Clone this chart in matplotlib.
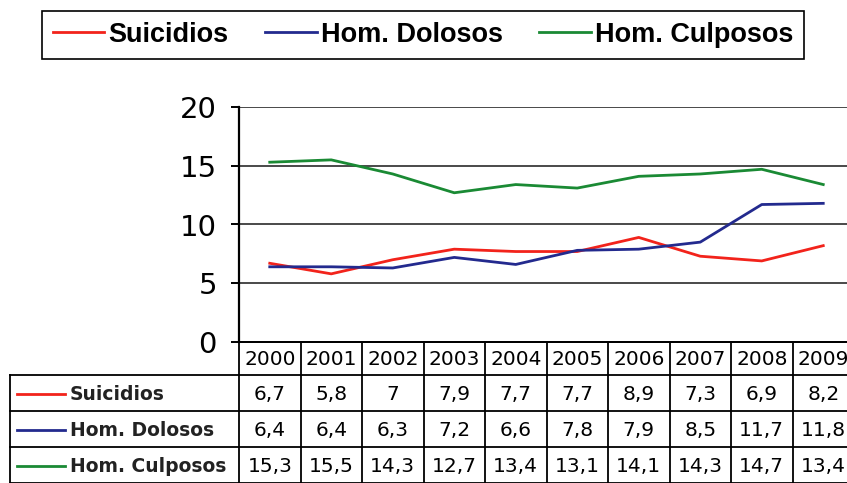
import matplotlib
matplotlib.use("Agg")
import matplotlib.pyplot as plt
import numpy as np

years = ["2000", "2001", "2002", "2003", "2004", "2005", "2006", "2007", "2008", "2009"]
series_names = ["Suicidios", "Hom. Dolosos", "Hom. Culposos"]
suicidios = [6.7, 5.8, 7.0, 7.9, 7.7, 7.7, 8.9, 7.3, 6.9, 8.2]
dolosos = [6.4, 6.4, 6.3, 7.2, 6.6, 7.8, 7.9, 8.5, 11.7, 11.8]
culposos = [15.3, 15.5, 14.3, 12.7, 13.4, 13.1, 14.1, 14.3, 14.7, 13.4]
colors = ["#f2231b", "#232a8e", "#1a8a34"]
yticks = [0, 5, 10, 15, 20]

W, H = 847, 483


def fmt(v):
    return ("%g" % v).replace(".", ",")


def main():
    fig = plt.figure(figsize=(W / 100, H / 100), dpi=100)
    fig.patch.set_facecolor("white")

    # plot area (pixel layout)
    left, right, top, bottom = 239, 854, 107, 342
    ax = fig.add_axes([left / W, (H - bottom) / H, (right - left) / W, (bottom - top) / H])
    x = np.arange(len(years))
    data = [suicidios, dolosos, culposos]
    lines = []
    for vals, name, c in zip(data, series_names, colors):
        ln, = ax.plot(x, vals, color=c, lw=2.0, label=name, zorder=3)
        lines.append(ln)

    ax.set_xlim(-0.5, len(years) - 0.5)
    ax.set_ylim(0, 20)
    ax.set_yticks(yticks)
    ax.set_xticks([])
    ax.yaxis.grid(True, color="#2a2a2a", lw=1.2)
    ax.set_axisbelow(True)
    for s in ["top", "right"]:
        ax.spines[s].set_visible(False)
    ax.spines["left"].set_linewidth(1.6)
    ax.spines["bottom"].set_linewidth(1.4)
    ax.tick_params(axis="y", length=6, width=1.4, pad=10, labelsize=21)

    # data table below the plot, sharing the column layout
    colw = (right - left) / len(years)
    tl = 10
    xleft = -0.5 - (left - tl) / colw
    tx = fig.add_axes([tl / W, 0, (right - tl) / W, (H - bottom) / H])
    tx.set_xlim(xleft, len(years) - 0.5)
    tx.set_ylim(H - bottom, 0)
    tx.axis("off")
    rows = [0, 33, 69, 105, 141]
    lk = dict(color="black", lw=1.3, clip_on=False)
    for i in range(len(years) + 1):
        tx.plot([i - 0.5, i - 0.5], [rows[0], rows[-1]], **lk)
    tx.plot([xleft, xleft], [rows[1], rows[-1]], **lk)
    tx.plot([-0.5, len(years) - 0.5], [rows[0], rows[0]], **lk)
    for r in rows[1:]:
        tx.plot([xleft, len(years) - 0.5], [r, r], **lk)

    fs = 14.5
    for i, yr in enumerate(years):
        tx.text(i, (rows[0] + rows[1]) / 2 + 1, yr, ha="center", va="center", fontsize=fs)
    for k, (vals, name, c) in enumerate(zip(data, series_names, colors)):
        yc = (rows[k + 1] + rows[k + 2]) / 2 + 1
        tx.plot([xleft + 7 / colw, xleft + 55 / colw], [yc, yc], color=c, lw=2.0, clip_on=False)
        tx.text(xleft + 60 / colw, yc, name, ha="left", va="center", fontsize=13.5,
                fontweight="bold", color="#222222")
        for i, v in enumerate(vals):
            tx.text(i, yc, fmt(v), ha="center", va="center", fontsize=fs)

    # legend box at the top
    leg = fig.legend(lines, series_names, loc="upper center",
                     bbox_to_anchor=(423 / W, 1 - 11 / H), ncol=3,
                     frameon=True, fancybox=False, edgecolor="black",
                     framealpha=1, handlelength=1.9, handletextpad=0.15,
                     columnspacing=1.35, borderpad=0.4, borderaxespad=0,
                     prop={"family": ["Liberation Sans", "DejaVu Sans"],
                           "weight": "bold", "size": 19.5})
    leg.get_frame().set_linewidth(1.2)

    fig.savefig("out.png", dpi=100)


main()
